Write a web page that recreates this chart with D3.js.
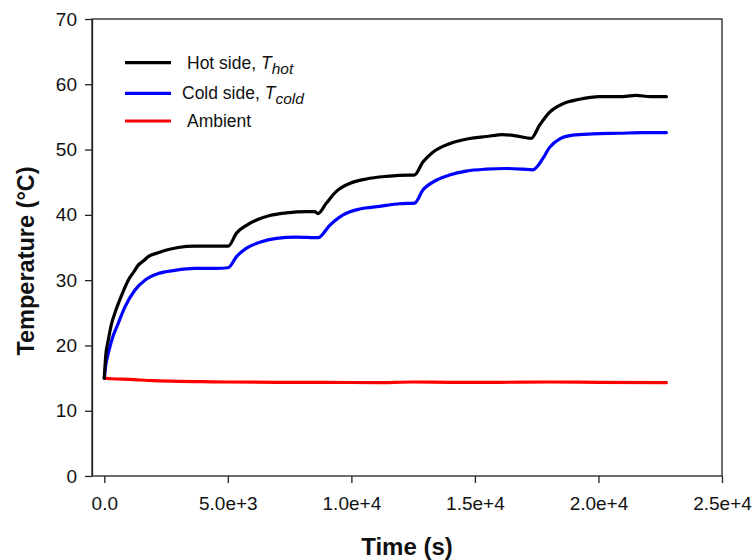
<!DOCTYPE html>
<html>
<head>
<meta charset="utf-8">
<script src="https://cdn.jsdelivr.net/npm/d3@7"></script>
<style>
  html, body { margin: 0; padding: 0; background: #fff; }
  svg { display: block; font-family: Arial, "Liberation Sans", sans-serif; }
</style>
</head>
<body>
<svg id="chart" width="755" height="560"></svg>
<script>
// Time axis (s)
const xTicks = [0, 5000, 10000, 15000, 20000, 25000];
const xTickLabels = ["0.0", "5.0e+3", "1.0e+4", "1.5e+4", "2.0e+4", "2.5e+4"];
// Temperature axis (°C)
const yTicks = [0, 10, 20, 30, 40, 50, 60, 70];
const yTickLabels = ["0", "10", "20", "30", "40", "50", "60", "70"];

// Hot side temperature samples: [time s, °C]
const hotSide = [
  [0, 15.0], [60, 18.5], [160, 20.8], [300, 23.4], [450, 25.2], [566, 26.4],
  [800, 28.6], [970, 30.0], [1200, 31.3], [1374, 32.3], [1600, 33.0], [1779, 33.6],
  [2183, 34.2], [2600, 34.7], [2991, 35.0], [3666, 35.2], [4300, 35.2], [4879, 35.2],
  [5013, 35.2], [5352, 37.2], [5756, 38.4], [6160, 39.2], [6698, 39.9], [7372, 40.3],
  [8181, 40.5], [8516, 40.5], [8650, 40.2], [8989, 41.8], [9393, 43.6], [9931, 44.8],
  [10606, 45.5], [11415, 45.9], [12357, 46.1], [12550, 46.1], [12894, 48.1], [13298, 49.6],
  [13973, 50.9], [14782, 51.7], [15456, 52.0], [16128, 52.3], [16670, 52.1], [17276, 51.7],
  [17611, 53.7], [18015, 55.7], [18553, 57.0], [19228, 57.7], [20036, 58.1], [20844, 58.1],
  [21520, 58.3], [22100, 58.1], [22750, 58.1]
];

// Cold side temperature samples: [time s, °C]
const coldSide = [
  [0, 15.0], [60, 17.0], [162, 18.8], [300, 20.8], [566, 23.4], [837, 25.9],
  [1241, 28.5], [1645, 30.0], [2183, 31.0], [2858, 31.5], [3666, 31.8], [4500, 31.8],
  [5013, 31.9], [5352, 33.6], [5756, 34.9], [6294, 35.8], [6968, 36.4], [7777, 36.6],
  [8650, 36.5], [9123, 38.4], [9662, 40.0], [10336, 40.9], [11145, 41.3], [11953, 41.7],
  [12559, 41.8], [12894, 43.8], [13435, 45.3], [13973, 46.1], [14648, 46.7], [15456, 47.0],
  [16265, 47.1], [16936, 47.0], [17340, 46.9], [17745, 48.6], [18015, 50.3], [18419, 51.6],
  [18957, 52.2], [19766, 52.4], [20844, 52.5], [21800, 52.6], [22750, 52.6]
];

// Ambient temperature samples: [time s, °C]
const ambient = [
  [0, 15.0], [300, 14.9], [1000, 14.8], [2000, 14.6], [3000, 14.5], [4000, 14.45],
  [5000, 14.4], [7000, 14.35], [9000, 14.35], [11000, 14.3], [12500, 14.4], [14000, 14.35],
  [16000, 14.35], [18000, 14.4], [20000, 14.35], [22750, 14.3]
];

const seriesNames = ["Hot side, ", "Cold side, ", "Ambient"];
const seriesSubs = ["hot", "cold", ""];
const seriesColors = ["#000000", "#0000ff", "#ff0000"];

const svg = d3.select("#chart");
// Frame of the plot area; the time axis starts a little inside its left edge
const plotLeft = 92, plotRight = 722, plotTop = 19, plotBottom = 476;
const xZeroPx = 104.3;

const x = d3.scaleLinear().domain([0, 25000]).range([xZeroPx, plotRight]);
const y = d3.scaleLinear().domain([0, 70]).range([plotBottom, plotTop]);

// Frame around the plot area
svg.append("rect")
  .attr("x", plotLeft).attr("y", plotTop)
  .attr("width", plotRight - plotLeft).attr("height", plotBottom - plotTop)
  .attr("fill", "none").attr("stroke", "#222").attr("stroke-width", 1.3);

// Bottom axis (its baseline is the frame's bottom edge)
const xAxis = d3.axisBottom(x)
  .tickValues(xTicks)
  .tickFormat((d, i) => xTickLabels[i])
  .tickSizeInner(7).tickSizeOuter(0).tickPadding(14);
const gx = svg.append("g").attr("transform", `translate(0,${plotBottom})`).call(xAxis);
gx.select(".domain").remove();
gx.selectAll(".tick line").attr("stroke", "#222").attr("stroke-width", 1.3);
gx.selectAll(".tick text").attr("font-size", 19).attr("fill", "#111")
  .attr("font-family", "Arial, 'Liberation Sans', sans-serif");

// Left axis
const yAxis = d3.axisLeft(y)
  .tickValues(yTicks)
  .tickFormat((d, i) => yTickLabels[i])
  .tickSizeInner(7).tickSizeOuter(0).tickPadding(8);
const gy = svg.append("g").attr("transform", `translate(${plotLeft},0)`).call(yAxis);
gy.select(".domain").attr("stroke", "#222").attr("stroke-width", 1.3);
gy.selectAll(".tick line").attr("stroke", "#222").attr("stroke-width", 1.3);
gy.selectAll(".tick text").attr("font-size", 19).attr("fill", "#111")
  .attr("font-family", "Arial, 'Liberation Sans', sans-serif");

// Axis titles
svg.append("text")
  .attr("x", (plotLeft + plotRight) / 2).attr("y", 555)
  .attr("text-anchor", "middle")
  .attr("font-size", 24).attr("font-weight", "bold").attr("fill", "#111")
  .text("Time (s)");

svg.append("text")
  .attr("transform", "translate(34,261) rotate(-90)")
  .attr("text-anchor", "middle")
  .attr("font-size", 23.5).attr("font-weight", "bold").attr("fill", "#111")
  .text("Temperature (°C)");

// Data lines
const line = d3.line()
  .x(d => x(d[0]))
  .y(d => y(d[1]))
  .curve(d3.curveMonotoneX);

const allSeries = [hotSide, coldSide, ambient];
// Ambient drawn first so the other traces sit on top at t = 0
[2, 1, 0].forEach(i => {
  svg.append("path")
    .datum(allSeries[i])
    .attr("d", line)
    .attr("fill", "none")
    .attr("stroke", seriesColors[i])
    .attr("stroke-width", 3.2)
    .attr("stroke-linejoin", "round")
    .attr("stroke-linecap", "round");
});

// Legend
const legendRowY = [62.7, 93.3, 121];
const legendTextX = [187, 182, 187];
seriesNames.forEach((name, i) => {
  const g = svg.append("g");
  g.append("line")
    .attr("x1", 125).attr("x2", 171)
    .attr("y1", legendRowY[i]).attr("y2", legendRowY[i])
    .attr("stroke", seriesColors[i]).attr("stroke-width", 3.2);
  const t = g.append("text")
    .attr("x", legendTextX[i]).attr("y", legendRowY[i] + 6)
    .attr("font-size", 17.5).attr("fill", "#111")
    .text(name);
  if (seriesSubs[i]) {
    t.append("tspan").attr("font-style", "italic").text("T");
    t.append("tspan").attr("font-style", "italic").attr("font-size", 15.5)
      .attr("dy", 5).text(seriesSubs[i]);
  }
});
</script>
</body>
</html>
